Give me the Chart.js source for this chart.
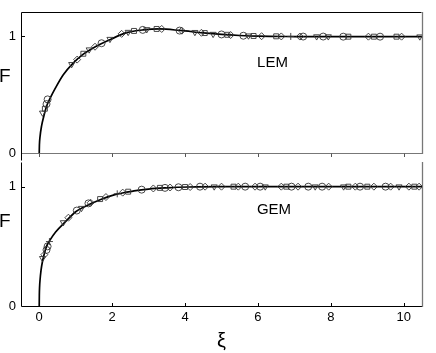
<!DOCTYPE html>
<html><head><meta charset="utf-8">
<script src="https://cdn.jsdelivr.net/npm/chart.js@4.4.1/dist/chart.umd.min.js"></script>
<style>
html,body{margin:0;padding:0;background:#fff;}
#wrap{position:relative;width:436px;height:353px;overflow:hidden;font-family:"Liberation Sans",Arial,sans-serif;}
canvas{position:absolute;left:0;}
.lbl{position:absolute;color:#000;line-height:1;white-space:nowrap;}
.c{transform:translateX(-50%);}
</style></head>
<body><div id="wrap">
<canvas id="topc" width="436" height="166" style="top:0;width:436px;height:166px"></canvas>
<canvas id="botc" width="436" height="203" style="top:150px;width:436px;height:203px"></canvas>
<div class="lbl" style="left:-1px;top:66px;font-size:19px">F</div>
<div class="lbl" style="left:-1px;top:211px;font-size:19px">F</div>
<div class="lbl c" style="left:272.5px;top:53.7px;font-size:15px">LEM</div>
<div class="lbl c" style="left:274px;top:201px;font-size:15px">GEM</div>
</div>
<script>
// ---------- axis ticks / labels ----------
const xTicks = [0, 2, 4, 6, 8, 10];
const yTicks = [0, 1];
const xTitle = 'ξ';
const panelNames = ['LEM', 'GEM'];

// ---------- LEM panel (top) ----------
const lemCurveX = [0, 0.005, 0.02, 0.066, 0.12, 0.2, 0.3, 0.45, 0.66, 0.93, 1.2, 1.48, 1.94, 2.4, 2.85, 3.3, 3.86, 4.5, 5.0, 5.5, 6.0, 7.0, 8.0, 10.5];
const lemCurveY = [0, 0.07, 0.135, 0.236, 0.31, 0.40, 0.47, 0.56, 0.67, 0.77, 0.845, 0.90, 0.97, 1.03, 1.054, 1.062, 1.049, 1.028, 1.015, 1.006, 1.0, 0.997, 0.996, 0.996];

const lemCircX = [0.2, 0.23, 1.71, 2.84, 3.85, 5.0, 5.6, 7.24, 7.79, 8.34, 9.35];
const lemCircY = [0.42, 0.46, 0.94, 1.054, 1.048, 1.015, 1.004, 0.997, 0.997, 0.996, 0.996];
const lemTriX = [0.09, 0.89, 1.37, 1.94, 2.44, 2.95, 4.27, 4.77, 5.74, 7.61, 7.93, 10.44];
const lemTriY = [0.345, 0.76, 0.885, 0.975, 1.035, 1.058, 1.034, 1.018, 1.004, 0.997, 0.997, 0.996];
const lemDiaX = [1.04, 1.53, 2.26, 3.36, 3.91, 4.45, 5.25, 6.1, 6.64, 7.15, 9.03, 9.94];
const lemDiaY = [0.80, 0.91, 1.02, 1.062, 1.047, 1.029, 1.01, 1.0, 0.998, 0.997, 0.996, 0.996];
const lemSqX = [0.155, 1.21, 2.6, 3.22, 4.54, 5.16, 5.88, 6.5, 8.48, 9.18, 9.8];
const lemSqY = [0.38, 0.85, 1.045, 1.062, 1.027, 1.012, 1.002, 0.999, 0.996, 0.996, 0.996];
const lemPlusX = [6.9];
const lemPlusY = [0.998];

// ---------- GEM panel (bottom) ----------
const gemCurveX = [0, 0.003, 0.01, 0.02, 0.05, 0.09, 0.15, 0.2, 0.29, 0.45, 0.7, 1.0, 1.2, 1.67, 2.1, 2.6, 3.0, 3.5, 4.1, 5.0, 6.0, 8.0, 10.5];
const gemCurveY = [0, 0.09, 0.16, 0.21, 0.30, 0.375, 0.45, 0.50, 0.55, 0.62, 0.70, 0.79, 0.825, 0.89, 0.935, 0.964, 0.98, 0.99, 0.997, 1.0, 1.0, 1.0, 1.0];

const gemCircX = [0.2, 0.23, 1.03, 1.35, 2.81, 3.45, 3.82, 4.41, 5.65, 6.06, 6.92, 7.38, 7.76, 8.8, 9.5];
const gemCircY = [0.47, 0.50, 0.80, 0.86, 0.975, 0.99, 0.995, 1.0, 1.0, 1.0, 1.0, 1.0, 1.0, 1.0, 1.0];
const gemTriX = [0.09, 0.66, 1.16, 4.8, 6.2, 7.57, 8.35, 9.87];
const gemTriY = [0.40, 0.70, 0.82, 1.0, 1.0, 1.0, 1.0, 1.0];
const gemDiaX = [0.14, 0.8, 1.41, 1.83, 2.29, 3.13, 3.59, 4.14, 4.55, 5.0, 5.46, 5.92, 6.64, 7.1, 7.94, 8.67, 9.18, 9.64, 10.14, 10.42];
const gemDiaY = [0.43, 0.74, 0.865, 0.913, 0.95, 0.985, 0.993, 0.997, 1.0, 1.0, 1.0, 1.0, 1.0, 1.0, 1.0, 1.0, 1.0, 1.0, 1.0, 1.0];
const gemSqX = [1.67, 2.44, 3.31, 4.0, 5.33, 6.78, 8.48, 9.0, 10.29];
const gemSqY = [0.896, 0.958, 0.99, 0.997, 1.0, 1.0, 1.0, 1.0, 1.0];
const gemPlusX = [0.28, 2.14];
const gemPlusY = [0.54, 0.94];

// ---------- helpers ----------
Chart.defaults.font.family = '"Liberation Sans", Arial, sans-serif';
Chart.defaults.color = '#000';

const pts = (xs, ys) => xs.map((x, i) => ({x: x, y: ys[i]}));
const mk = (xs, ys, style, rot) => ({
  type: 'scatter', data: pts(xs, ys), showLine: false,
  pointStyle: style, rotation: rot || 0, pointRadius: 3.5,
  borderColor: '#333', backgroundColor: 'rgba(255,255,255,0)', borderWidth: 0.9
});
const curve = (xs, ys) => ({
  type: 'line', data: pts(xs, ys), borderColor: '#000', borderWidth: 1.7,
  pointRadius: 0, cubicInterpolationMode: 'monotone', fill: false
});

const framePlugin = {
  id: 'frame',
  beforeDatasetsDraw(chart, args, o) {
    const {ctx, chartArea: a, scales} = chart;
    const L = Math.floor(a.left) + 0.5, R = Math.floor(a.right) - 0.5;
    const T = Math.floor(a.top) + 0.5, B = Math.floor(a.bottom) + 0.5;
    ctx.save();
    const seg = (x1, y1, x2, y2, c, w) => {
      ctx.beginPath(); ctx.strokeStyle = c; ctx.lineWidth = w || 1;
      ctx.moveTo(x1, y1); ctx.lineTo(x2, y2); ctx.stroke();
    };
    if (o.top) seg(L, T, R, T, o.top);
    if (o.bottom) seg(L, B, R + 1, B, o.bottom);
    if (o.left) seg(L, T, L, B + (o.extendLeft || 0), o.left);
    if (o.right) seg(R + 1, T - 0.5, R + 1, B + 0.5, o.right, 1.3);
    xTicks.forEach(v => {
      const x = Math.round(scales.x.getPixelForValue(v)) + 0.5;
      seg(x, B, x, B + o.xTickDir * 3.5, o.tickColor || '#000');
    });
    yTicks.forEach(v => {
      if (v === 0) return;
      const y = Math.round(scales.y.getPixelForValue(v)) + 0.5;
      seg(L, y, L + 3.5, y, '#000');
    });
    ctx.restore();
  }
};

function yScale() {
  return {
    type: 'linear', min: 0, max: 1.2,
    afterFit(s) { s.width = 21; },
    afterBuildTicks(s) { s.ticks = yTicks.map(v => ({value: v})); },
    grid: {display: false, drawTicks: false}, border: {display: false},
    ticks: {padding: 5, color: '#000', font: {size: 13}}
  };
}

// top chart
new Chart(document.getElementById('topc'), {
  type: 'scatter',
  data: {datasets: [
    mk(lemCircX, lemCircY, 'circle'),
    mk(lemTriX, lemTriY, 'triangle', 180),
    mk(lemDiaX, lemDiaY, 'rectRot'),
    mk(lemSqX, lemSqY, 'rect'),
    mk(lemPlusX, lemPlusY, 'cross'),
    curve(lemCurveX, lemCurveY)
  ]},
  options: {
    responsive: false, animation: false, events: [], devicePixelRatio: 1,
    layout: {padding: {left: 0, right: 14, top: 11, bottom: 7}},
    plugins: {legend: {display: false}, tooltip: {enabled: false},
      frame: {top: '#000', left: '#000', right: '#777', bottom: '#777', xTickDir: 1, tickColor: '#555', extendLeft: 7}},
    scales: {
      x: {type: 'linear', min: -0.5, max: 10.5,
          afterFit(s) { s.height = 0; },
          afterBuildTicks(s) { s.ticks = xTicks.map(v => ({value: v})); },
          ticks: {display: false}, grid: {display: false}, border: {display: false}},
      y: yScale()
    }
  },
  plugins: [framePlugin]
});

// bottom chart
new Chart(document.getElementById('botc'), {
  type: 'scatter',
  data: {datasets: [
    mk(gemCircX, gemCircY, 'circle'),
    mk(gemTriX, gemTriY, 'triangle', 180),
    mk(gemDiaX, gemDiaY, 'rectRot'),
    mk(gemSqX, gemSqY, 'rect'),
    mk(gemPlusX, gemPlusY, 'cross'),
    curve(gemCurveX, gemCurveY)
  ]},
  options: {
    responsive: false, animation: false, events: [], devicePixelRatio: 1,
    layout: {padding: {left: 0, right: 14, top: 9, bottom: 0}},
    plugins: {legend: {display: false}, tooltip: {enabled: false},
      frame: {left: '#000', right: '#777', bottom: '#000', xTickDir: -1}},
    scales: {
      x: {type: 'linear', min: -0.5, max: 10.5,
          afterFit(s) { s.height = 47; },
          afterBuildTicks(s) { s.ticks = xTicks.map(v => ({value: v})); },
          grid: {display: false, drawTicks: false}, border: {display: false},
          ticks: {padding: 4, color: '#000', font: {size: 13}, maxRotation: 0},
          title: {display: true, text: xTitle, color: '#000', font: {size: 20}, padding: {top: 0, bottom: 0}}},
      y: yScale()
    }
  },
  plugins: [framePlugin]
});
</script>
</body></html>
